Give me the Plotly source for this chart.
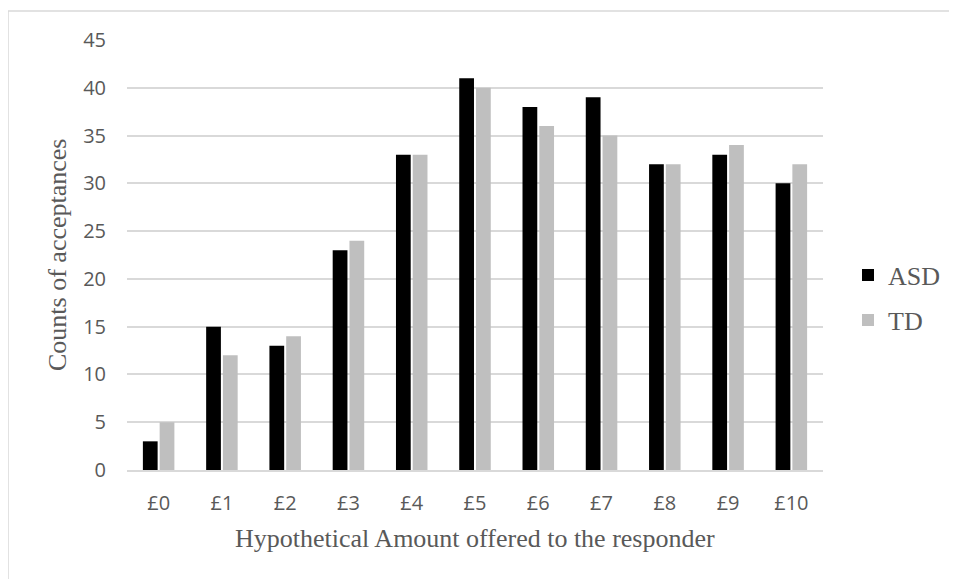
import plotly.graph_objects as go

categories = ["£0", "£1", "£2", "£3", "£4", "£5", "£6", "£7", "£8", "£9", "£10"]
asd = [3, 15, 13, 23, 33, 41, 38, 39, 32, 33, 30]
td = [5, 12, 14, 24, 33, 40, 36, 35, 32, 34, 32]
y_ticks = [0, 5, 10, 15, 20, 25, 30, 35, 40, 45]

OFF = 8  # browser body margin
W, H = 957, 579
# plot area in page pixels: x 127..823, y 40..470
L, T = 127 - OFF, 40 - OFF
R, B = W - (823 - OFF), H - (470 - OFF)
pw, ph = W - L - R, H - T - B

def px(x):
    return (x - OFF - L) / pw

def py(y):
    return (H - B - (y - OFF)) / ph

fig = go.Figure()
fig.add_trace(go.Bar(name="ASD", x=categories, y=asd, legend="legend",
                     marker=dict(color="#000000", line=dict(width=0))))
fig.add_trace(go.Bar(name="TD", x=categories, y=td, legend="legend2",
                     marker=dict(color="#bfbfbf", line=dict(width=0))))

leg_font = dict(family="Liberation Serif", size=26, color="#595959")
title_font = dict(family="Liberation Serif", size=26, color="#595959")
tick_font = dict(family="Open Sans", size=20, color="#595959")

bx0, by0 = px(8), py(11)

fig.update_layout(
    width=W, height=H,
    margin=dict(l=L, r=R, t=T, b=B),
    paper_bgcolor="white", plot_bgcolor="white",
    barmode="group", bargap=0.47, bargroupgap=0.12,
    showlegend=True,
    legend=dict(x=px(848), y=py(275), xanchor="left", yanchor="middle",
                font=leg_font, bgcolor="rgba(0,0,0,0)"),
    legend2=dict(x=px(848), y=py(320), xanchor="left", yanchor="middle",
                 font=leg_font, bgcolor="rgba(0,0,0,0)"),
    xaxis=dict(showgrid=False, showline=True, linecolor="#d9d9d9", linewidth=1.5,
               ticks="", tickfont=tick_font, ticklabelstandoff=14),
    yaxis=dict(range=[0, 45], tickvals=y_ticks, showgrid=True, gridcolor="#d9d9d9",
               gridwidth=1.5, zeroline=False, showline=False, ticks="",
               tickfont=tick_font, ticklabelstandoff=20),
    annotations=[
        dict(text="Hypothetical Amount offered to the responder", xref="paper", yref="paper",
             x=0.5, y=py(538), xanchor="center", yanchor="middle", showarrow=False,
             font=title_font),
        dict(text="Counts of acceptances", xref="paper", yref="paper",
             x=px(57), y=0.5, xanchor="center", yanchor="middle", showarrow=False,
             textangle=-90, font=title_font),
    ],
    shapes=[dict(type="line", xref="paper", yref="paper",
                 x0=bx0, x1=bx0, y0=py(600), y1=by0,
                 line=dict(color="#d9d9d9", width=1.5), layer="below"),
            dict(type="line", xref="paper", yref="paper",
                 x0=bx0, x1=px(980), y0=by0, y1=by0,
                 line=dict(color="#d9d9d9", width=1.5), layer="below")],
)

fig.write_html("out.html")
